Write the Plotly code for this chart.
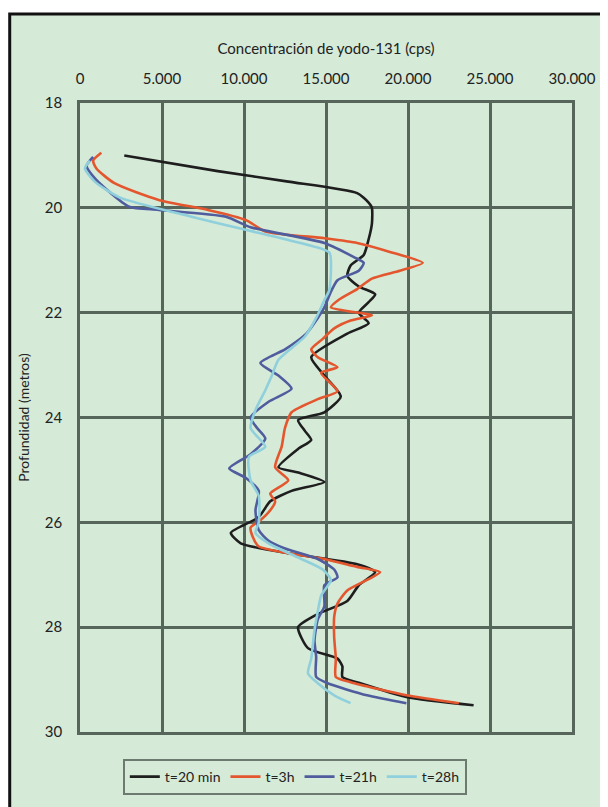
import plotly.graph_objects as go

# ---- data (cps in thousands, depth in metres) ----
x_ticks = [0, 5000, 10000, 15000, 20000, 25000, 30000]
x_tick_labels = ["0", "5.000", "10.000", "15.000", "20.000", "25.000", "30.000"]
y_ticks = [18, 20, 22, 24, 26, 28, 30]

series_names = ["t=20 min", "t=3h", "t=21h", "t=28h"]

depth_20min = [19.0, 19.3, 19.5, 19.72, 19.9, 20.0, 20.3, 20.6, 20.9, 21.1, 21.3, 21.5, 21.65, 21.8,
               22.0, 22.2, 22.4, 22.85, 23.2, 23.6, 23.9, 24.05, 24.25, 24.43, 24.6, 24.95, 25.05,
               25.23, 25.4, 25.6, 25.9, 26.2, 26.4, 26.6, 26.8, 26.95, 27.2, 27.5, 27.75, 28.0,
               28.4, 28.6, 28.75, 28.95, 29.07, 29.33, 29.49]
cps_20min = [2.7, 8.4, 12.7, 16.9, 17.6, 17.8, 17.8, 17.6, 17.3, 16.5, 16.3, 17.0, 18.0, 17.6,
             17.0, 17.6, 16.3, 14.1, 14.9, 15.9, 14.9, 13.3, 13.7, 14.1, 13.3, 12.1, 13.3,
             14.9, 12.9, 11.6, 10.9, 9.2, 9.8, 12.9, 16.9, 18.0, 17.0, 16.3, 14.5, 13.3,
             13.9, 15.7, 16.0, 16.0, 17.1, 19.9, 24.0]

depth_3h = [18.95, 19.1, 19.25, 19.53, 19.85, 20.04, 20.23, 20.45, 20.58, 20.67, 20.85, 21.05,
            21.2, 21.35, 21.55, 21.75, 21.9, 22.05, 22.15, 22.3, 22.5, 22.7, 22.85, 23.04, 23.15,
            23.5, 23.65, 23.9, 24.2, 24.55, 24.95, 25.2, 25.45, 25.6, 25.77, 25.96, 26.1, 26.25,
            26.46, 26.7, 26.85, 26.95, 27.1, 27.3, 27.55, 27.8, 28.2, 28.6, 28.95, 29.05, 29.3, 29.45]
cps_3h = [1.3, 0.8, 1.0, 2.1, 4.8, 7.8, 10.1, 11.3, 14.9, 16.9, 19.0, 20.9,
          19.5, 17.8, 16.9, 15.8, 15.3, 17.8, 16.5, 15.5, 14.8, 14.1, 14.5, 15.7, 14.7,
          15.7, 14.5, 12.9, 12.5, 12.3, 11.9, 12.7, 11.6, 11.9, 11.6, 11.0, 10.4, 10.5,
          10.9, 14.9, 16.9, 18.3, 17.5, 16.3, 15.7, 15.5, 15.5, 15.6, 15.6, 16.5, 19.9, 23.1]

depth_21h = [19.03, 19.2, 19.4, 19.7, 19.98, 20.04, 20.17, 20.37, 20.67, 20.94, 21.05, 21.2, 21.38,
             21.6, 21.9, 22.1, 22.4, 22.7, 22.96, 23.2, 23.45, 23.7, 24.0, 24.2, 24.4, 24.7, 24.97,
             25.15, 25.4, 25.77, 26.15, 26.35, 26.5, 26.7, 26.9, 27.05, 27.2, 27.6, 27.85, 28.25,
             28.57, 28.95, 29.07, 29.3, 29.45]
cps_21h = [0.8, 0.4, 0.8, 1.8, 3.0, 4.8, 8.9, 10.4, 14.9, 16.7, 17.3, 17.0, 15.7,
           15.3, 14.9, 14.5, 13.8, 12.5, 11.0, 12.1, 12.9, 11.5, 10.4, 10.8, 11.3, 10.4, 9.1,
           10.1, 10.9, 10.7, 10.9, 11.5, 12.5, 14.5, 15.5, 15.7, 14.9, 14.9, 14.5, 14.3,
           14.4, 14.4, 15.1, 17.5, 19.9]

depth_28h = [19.1, 19.25, 19.5, 19.8, 20.17, 20.42, 20.6, 20.85, 21.2, 21.57, 21.76, 22.1, 22.46,
             22.9, 23.2, 23.48, 23.86, 24.2, 24.56, 24.75, 25.2, 25.5, 26.0, 26.2, 26.4, 26.7,
             26.9, 27.1, 27.4, 27.7, 28.05, 28.6, 28.88, 29.07, 29.3, 29.45]
cps_28h = [0.6, 0.3, 0.9, 2.4, 6.8, 10.1, 12.5, 15.2, 15.3, 15.2, 14.9, 14.4, 13.7,
           12.1, 11.7, 11.3, 10.7, 10.4, 11.3, 10.3, 10.4, 10.9, 10.9, 10.7, 11.5, 13.5,
           14.8, 15.3, 14.7, 14.5, 14.3, 14.1, 13.9, 14.5, 15.5, 16.5]

colors = ["#1e1e1e", "#e4572e", "#4f5c9e", "#8fd0dc"]

BG = "#d6ead8"
GRID = "#57665b"
FONT = "Lato, 'Open Sans', sans-serif"

fig = go.Figure()
for name, d, v, c in zip(series_names,
                         [depth_20min, depth_3h, depth_21h, depth_28h],
                         [cps_20min, cps_3h, cps_21h, cps_28h],
                         colors):
    fig.add_trace(go.Scatter(
        x=[val * 1000 for val in v], y=d, mode="lines", name=name,
        line=dict(color=c, width=2.6, shape="spline", smoothing=0.6),
    ))

# page body has an 8px margin; figure coordinates = screenshot coordinates - 8
OFF = 8
W, H = 600, 799
L, R, T, B = 72, 31, 95, 75
pw, ph = W - L - R, H - T - B

def px_x(p):
    return (p - OFF - L) / pw

def px_y(p):
    return (H - B - (p - OFF)) / ph

fig.add_shape(type="rect", xref="paper", yref="paper",
              x0=px_x(9), x1=px_x(W + 40), y0=px_y(14), y1=px_y(H + 40),
              fillcolor=BG, line=dict(color="#111111", width=3), layer="below")

fig.update_layout(
    width=W, height=H,
    margin=dict(l=L, r=R, t=T, b=B),
    paper_bgcolor="white",
    plot_bgcolor=BG,
    font=dict(family=FONT, size=15, color="#222222"),
    showlegend=True,
    legend=dict(
        orientation="h", x=px_x(297), xanchor="center", y=px_y(777), yanchor="middle",
        bgcolor=BG, bordercolor="#6d7a70", borderwidth=2,
        font=dict(size=14, color="#222222"), itemwidth=30, tracegroupgap=0,
    ),
    xaxis=dict(
        side="top", range=[0, 30000], tickvals=x_ticks, ticktext=x_tick_labels,
        showgrid=True, gridcolor=GRID, gridwidth=2.5, zeroline=False,
        showline=True, linecolor=GRID, linewidth=2.5, mirror=True,
        ticks="", ticklabelstandoff=10, tickfont=dict(size=15),
        title=dict(text="Concentración de yodo-131 (cps)", font=dict(size=15), standoff=12),
    ),
    yaxis=dict(
        range=[30, 18], tickvals=y_ticks,
        showgrid=True, gridcolor=GRID, gridwidth=2.5, zeroline=False,
        showline=True, linecolor=GRID, linewidth=2.5, mirror=True,
        ticks="", ticklabelstandoff=12, tickfont=dict(size=15),
        title=dict(text="Profundidad (metros)", font=dict(size=14), standoff=12),
    ),
)

fig.write_html("out.html")
